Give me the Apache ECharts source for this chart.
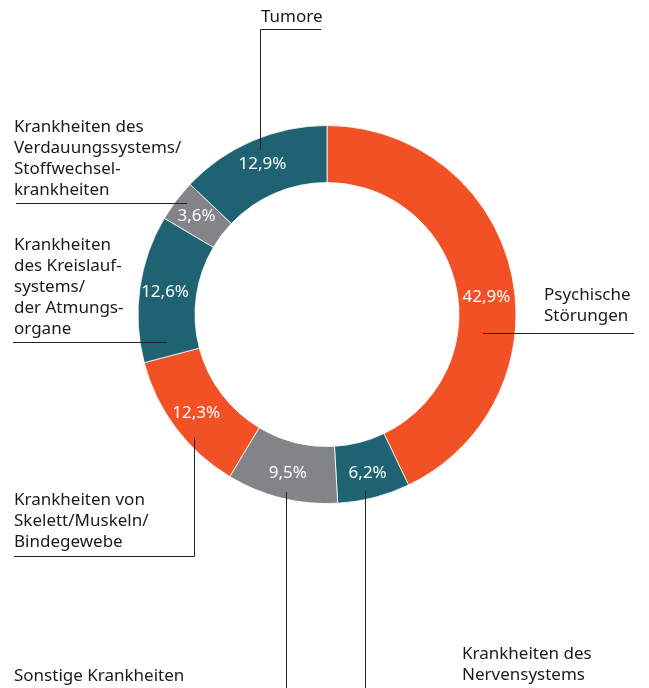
<!DOCTYPE html>
<html><head><meta charset="utf-8">
<script src="https://cdn.jsdelivr.net/npm/echarts@6/dist/echarts.min.js"></script>
<style>html,body{margin:0;padding:0;background:#fff}#c{width:649px;height:688px}</style>
</head><body><div id="c"></div>
<script>
const categories = ['Psychische Störungen','Krankheiten des Nervensystems','Sonstige Krankheiten','Krankheiten von Skelett/Muskeln/Bindegewebe','Krankheiten des Kreislaufsystems/der Atmungsorgane','Krankheiten des Verdauungssystems/Stoffwechselkrankheiten','Tumore'];
const labelTexts = ['Psychische\nStörungen','Krankheiten des\nNervensystems','Sonstige Krankheiten','Krankheiten von\nSkelett/Muskeln/\nBindegewebe','Krankheiten\ndes Kreislauf-\nsystems/\nder Atmungs-\norgane','Krankheiten des\nVerdauungssystems/\nStoffwechsel-\nkrankheiten','Tumore'];
const values = [42.9, 6.2, 9.5, 12.3, 12.6, 3.6, 12.9];
const colors = ['#F15125','#1F6373','#838488','#F15125','#1F6373','#838488','#1F6373'];

// callout placement (label top-left and guide line points)
const callouts = [
  {x:544, y:284.5, line:[[483,333.5],[560,333.5],[634,333.5]]},
  {x:462, y:643.5, line:[[365.5,491],[365.5,600],[365.5,700]]},
  {x:14,  y:666,   line:[[286.5,492],[286.5,600],[286.5,700]]},
  {x:14,  y:489.5, line:[[194.5,438],[194.5,556.5],[14,556.5]]},
  {x:14,  y:234.5, line:[[167,342.5],[90,342.5],[13,342.5]]},
  {x:14,  y:116.5, line:[[187,203.5],[100,203.5],[16,203.5]]},
  {x:261, y:6.5,   line:[[260.5,150],[260.5,29.5],[321,29.5]]}
];

const chart = echarts.init(document.getElementById('c'), null, {renderer:'canvas'});
const fam = '"Noto Sans", "DejaVu Sans", sans-serif';
const baseData = categories.map((n,i)=>({name:n, value:values[i], itemStyle:{color:colors[i]}}));
chart.setOption({
  animation:false,
  backgroundColor:'#fff',
  series:[
    {
      type:'pie', z:2, center:[327,314.5], radius:[132,189], startAngle:90, clockwise:true,
      avoidLabelOverlap:false, silent:true,
      itemStyle:{borderColor:'#fff', borderWidth:0.8},
      label:{show:true, position:'inside', color:'#fff', fontSize:17, fontFamily:fam,
        formatter:p=>p.value.toFixed(1).replace('.',',')+'%'},
      labelLine:{show:false},
      labelLayout:p=> p.dataIndex===0 ? {dy:19} : {},
      emphasis:{disabled:true},
      data:baseData
    },
    {
      type:'pie', z:5, center:[327,314.5], radius:[132,189], startAngle:90, clockwise:true,
      avoidLabelOverlap:false, silent:true,
      itemStyle:{color:'rgba(0,0,0,0)'},
      label:{show:true, position:'outside', color:'#1a1a1a', fontSize:17, lineHeight:21, fontFamily:fam,
        formatter:p=>labelTexts[p.dataIndex]},
      labelLine:{show:true, length:10, length2:10, smooth:false, lineStyle:{color:'#222', width:1}},
      labelLayout:p=>{
        const c = callouts[p.dataIndex];
        return {x:c.x, y:c.y, align:'left', verticalAlign:'top', labelLinePoints:c.line};
      },
      emphasis:{disabled:true},
      data:categories.map((n,i)=>({name:n, value:values[i]}))
    }
  ]
});
</script>
</body></html>
